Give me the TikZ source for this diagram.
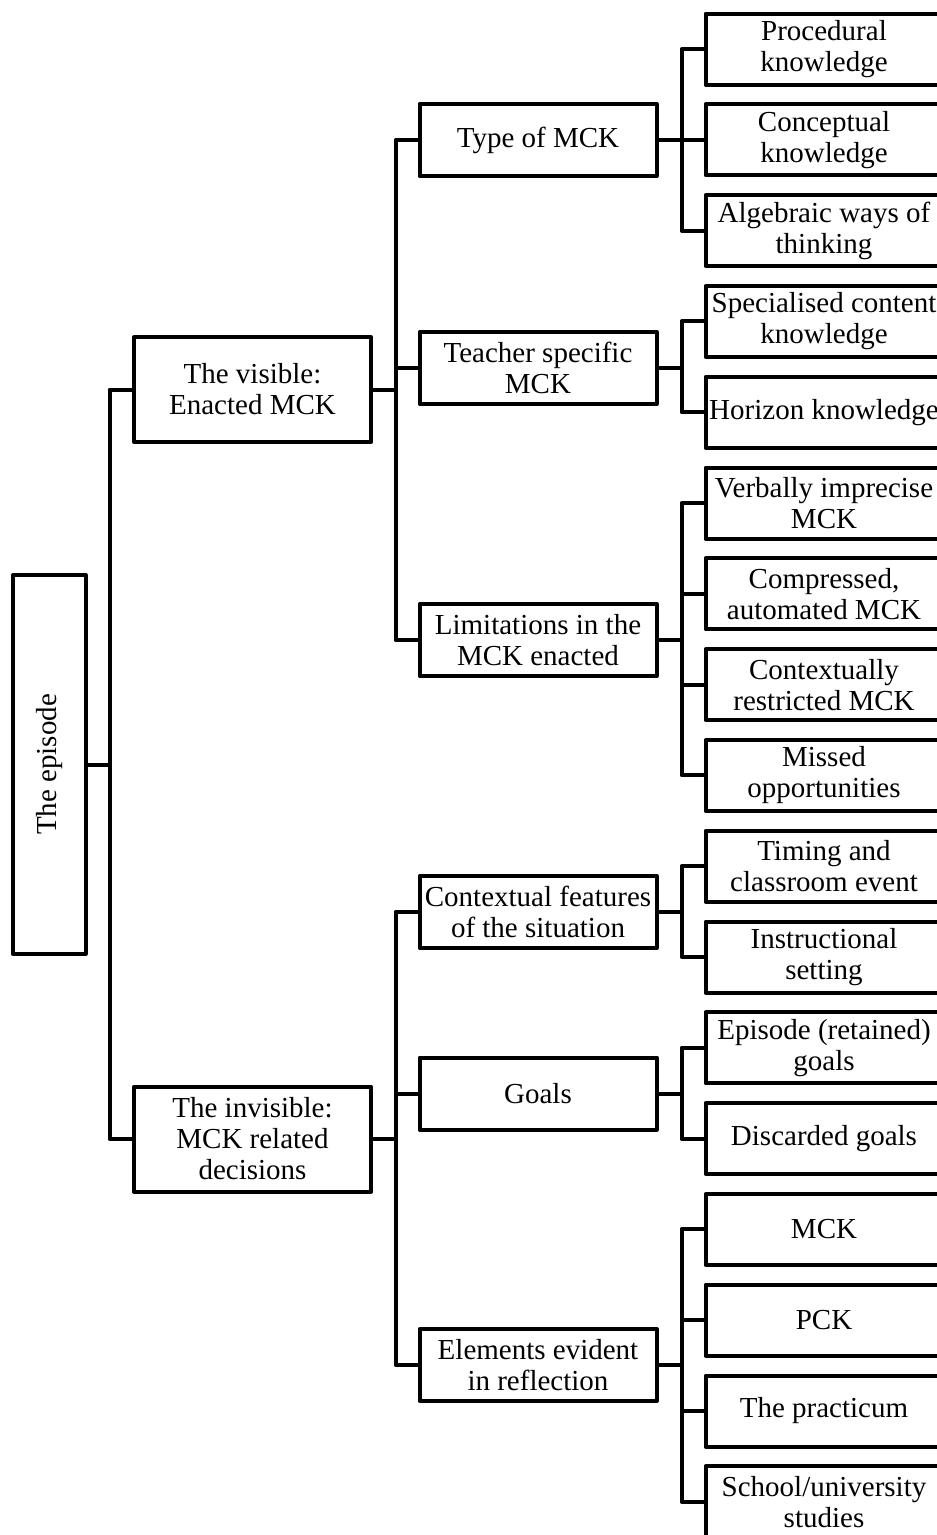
\documentclass[tikz,border=0pt]{standalone}
\usepackage{fontspec}
\usepackage{graphicx}
\setmainfont{Liberation Serif}
\begin{document}
\begin{tikzpicture}[x=1pt,y=-1pt,
  box/.style={draw, line width=4pt, line join=round, align=center, inner sep=0pt,
    font=\fontsize{29}{31}\selectfont, minimum width=237pt},
  lvl/.style={box, minimum height=105pt},
  mid/.style={box, minimum height=72pt},
  leaf/.style={box, minimum height=71pt},
  link/.style={line width=4pt, line join=round}]
\path[use as bounding box] (0,0) rectangle (937,1535);
\clip (0,0) rectangle (937,1535);

% trunk columns
\coordinate (t1) at (109.5,0);
\coordinate (t2) at (395.5,0);
\coordinate (t3) at (681.5,0);

% root
\node[box, minimum width=72.5pt, minimum height=379pt] (ep) at (49.25,764.5)
  {\rotatebox{90}{The episode}};

% first level
\node[lvl] (vis) at (252.5,389.5) {The visible:\\Enacted MCK};
\node[lvl] (inv) at (252.5,1139) {The invisible:\\MCK related\\decisions};

% second level
\node[mid] (tmck) at (538,140)   {Type of MCK};
\node[mid] (tsp)  at (538,368)   {Teacher specific\\MCK};
\node[mid] (lim)  at (538,640)   {Limitations in the\\MCK enacted};
\node[mid] (ctx)  at (538,912)   {Contextual features\\of the situation};
\node[mid] (goal) at (538,1093.5){Goals};
\node[mid] (elem) at (538,1365)  {Elements evident\\in reflection};

% leaves
\node[leaf] (l1)  at (824,49)     {Procedural\\knowledge};
\node[leaf] (l2)  at (824,139.8)  {Conceptual\\knowledge};
\node[leaf] (l3)  at (824,230.6)  {Algebraic ways of\\thinking};
\node[leaf] (l4)  at (824,321.4)  {Specialised content\\knowledge};
\node[leaf] (l5)  at (824,412.2)  {Horizon knowledge};
\node[leaf] (l6)  at (824,503)    {Verbally imprecise\\MCK};
\node[leaf] (l7)  at (824,593.8)  {Compressed,\\automated MCK};
\node[leaf] (l8)  at (824,684.6)  {Contextually\\restricted MCK};
\node[leaf] (l9)  at (824,775.4)  {Missed\\opportunities};
\node[leaf] (l10) at (824,866.2)  {Timing and\\classroom event};
\node[leaf] (l11) at (824,957)    {Instructional\\setting};
\node[leaf] (l12) at (824,1047.8) {Episode (retained)\\goals};
\node[leaf] (l13) at (824,1138.6) {Discarded goals};
\node[leaf] (l14) at (824,1229.4) {MCK};
\node[leaf] (l15) at (824,1320.2) {PCK};
\node[leaf] (l16) at (824,1411)   {The practicum};
\node[leaf] (l17) at (824,1501.8) {School/university\\studies};

% root to first level
\draw[link] (ep.east) -- (ep.east -| t1);
\draw[link] (vis.west) -- (vis.west -| t1) -- (inv.west -| t1) -- (inv.west);

% first level to second level
\draw[link] (vis.east) -- (vis.east -| t2);
\draw[link] (tmck.west) -- (tmck.west -| t2) -- (lim.west -| t2) -- (lim.west);
\draw[link] (tsp.west) -- (tsp.west -| t2);
\draw[link] (inv.east) -- (inv.east -| t2);
\draw[link] (ctx.west) -- (ctx.west -| t2) -- (elem.west -| t2) -- (elem.west);
\draw[link] (goal.west) -- (goal.west -| t2);

% second level to leaves
\foreach \m in {tmck,tsp,lim,ctx,goal,elem}
  \draw[link] (\m.east) -- (\m.east -| t3);
\draw[link] (l1.west) -- (l1.west -| t3) -- (l3.west -| t3) -- (l3.west);
\draw[link] (l2.west) -- (l2.west -| t3);
\draw[link] (l4.west) -- (l4.west -| t3) -- (l5.west -| t3) -- (l5.west);
\draw[link] (l6.west) -- (l6.west -| t3) -- (l9.west -| t3) -- (l9.west);
\draw[link] (l7.west) -- (l7.west -| t3);
\draw[link] (l8.west) -- (l8.west -| t3);
\draw[link] (l10.west) -- (l10.west -| t3) -- (l11.west -| t3) -- (l11.west);
\draw[link] (l12.west) -- (l12.west -| t3) -- (l13.west -| t3) -- (l13.west);
\draw[link] (l14.west) -- (l14.west -| t3) -- (l17.west -| t3) -- (l17.west);
\draw[link] (l15.west) -- (l15.west -| t3);
\draw[link] (l16.west) -- (l16.west -| t3);
\end{tikzpicture}
\end{document}
